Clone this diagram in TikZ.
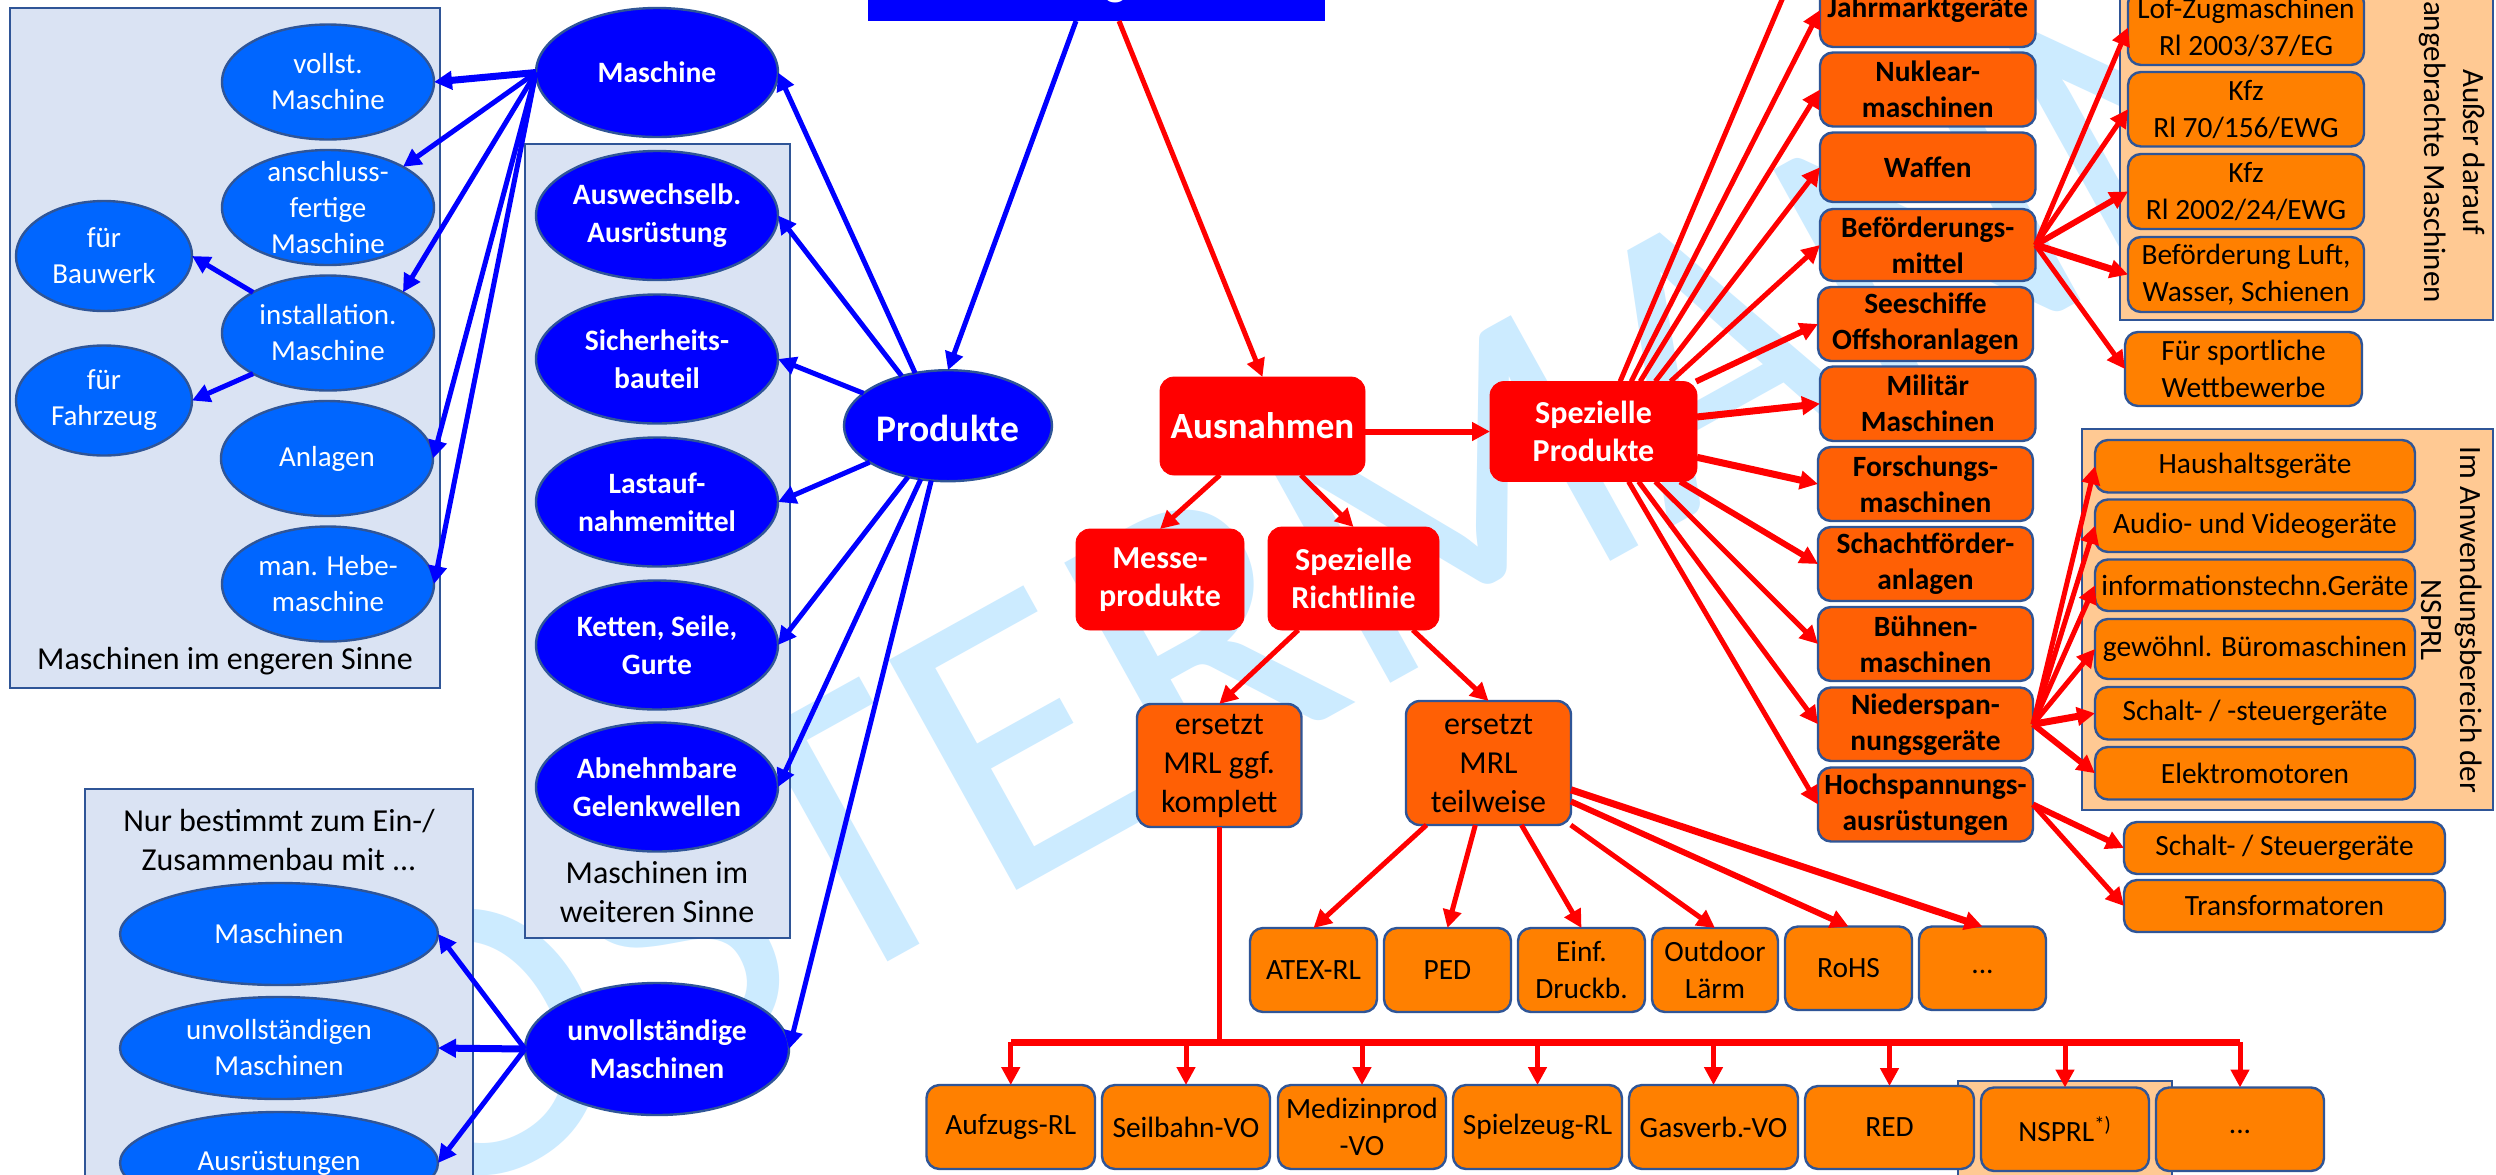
\documentclass[tikz,border=0pt]{standalone}
\usepackage{fontspec}
\setmainfont{Carlito}
\usetikzlibrary{arrows.meta,shapes.geometric,calc}
\definecolor{wm}{HTML}{CCEBFF}
\definecolor{edge}{HTML}{2F5597}
\definecolor{panelb}{HTML}{DAE3F3}
\definecolor{peach}{HTML}{FFC993}
\definecolor{oranA}{HTML}{FF8000}
\definecolor{oranB}{HTML}{FF6005}
\definecolor{lblue}{HTML}{0066FF}
\definecolor{dblue}{HTML}{0000FF}
\tikzset{
  fa/.style={font=\fontsize{16}{19}\selectfont,align=center,text=black},
  fb/.style={font=\fontsize{14.7}{18.5}\selectfont,align=center,text=black},
  fd/.style={font=\fontsize{16}{19.5}\selectfont,align=center,text=black},
  fr/.style={font=\fontsize{15.5}{19.5}\selectfont,align=center,text=black},
  fc/.style={font=\fontsize{16}{19}\selectfont\bfseries,align=center,text=white},
  base/.style={inner sep=0pt,outer sep=0pt},
  panel/.style={base,rectangle,draw=edge,line width=1.2pt,fill=panelb},
  ppanel/.style={base,rectangle,draw=edge,line width=1.2pt,fill=peach},
  obox/.style={base,rectangle,rounded corners=6.5pt,draw=edge,line width=1.2pt,fill=oranA,fb},
  dbox/.style={base,rectangle,rounded corners=6.5pt,draw=edge,line width=1.2pt,fill=oranB,fb,font=\fontsize{14.7}{18}\selectfont\bfseries},
  nbox/.style={base,rectangle,rounded corners=7pt,draw=edge,line width=1.2pt,fill=oranB,fb,font=\fontsize{16}{19.5}\selectfont},
  rbox/.style={base,rectangle,rounded corners=7pt,draw=red,fill=red,fc},
  lell/.style={base,ellipse,draw=edge,line width=1.2pt,fill=lblue},
  dell/.style={base,ellipse,draw=edge,line width=1.2pt,fill=dblue},
  ltxt/.style={base,font=\fontsize{14.5}{18}\selectfont,align=center,text=white},
  dtxt/.style={base,font=\fontsize{14.8}{19}\selectfont\bfseries,align=center,text=white},
  bl/.style={draw=dblue,line width=2.5pt,-{Triangle[length=9pt,width=9pt]}},
  blt/.style={bl,line width=3.5pt},
  re/.style={draw=red,line width=2.5pt,-{Triangle[length=9pt,width=9pt]}},
  ret/.style={re,line width=3.5pt},
  rem/.style={re,line width=3pt}
}
\newcommand{\BX}[7]{%
  \pgfmathsetmacro\bxcx{(#3+#5)/2}\pgfmathsetmacro\bxcy{(#4+#6)/2}%
  \node[#1,minimum width={(#5-(#3))*0.5pt},minimum height={(#6-(#4))*0.5pt}] (#2) at (\bxcx,\bxcy) {#7};}
\newcommand{\EL}[7]{%
  \node[#1,minimum width={#5*1pt},minimum height={#6*1pt}] (#2) at (#3,#4) {};
  \node[#1txt] (#2-t) at (#2) {#7};}
\tikzset{lelltxt/.style={ltxt},delltxt/.style={dtxt}}
\begin{document}
\begin{tikzpicture}[x=0.5pt,y=-0.5pt]
\useasboundingbox (0,0) rectangle (2496,1174);
\clip (0,0) rectangle (2496,1174);
\fill[white] (0,0) rectangle (2496,1174);
% watermark
\node[base,anchor=base west,rotate=29,text=wm,font=\fontsize{205}{205}\selectfont] (wmark) at (417,1223) {OSTERMANN};
% panels
\BX{panel}{pA}{10}{8}{440}{688}{}
\BX{panel}{pB}{525}{144}{790}{938}{}
\BX{panel}{pC}{85}{789}{473}{1260}{}
\BX{ppanel}{pD}{2120}{-40}{2493}{320}{}
\BX{ppanel}{pE}{2082}{429}{2493}{810}{}
\BX{ppanel}{pF}{1958}{1081}{2172}{1260}{}
\node[base,fa] (pA-t) at (225,661) {Maschinen im engeren Sinne};
\node[base,fd] (pB-t) at (657,892) {Maschinen im\\weiteren Sinne};
\node[base,fd] (pC-t) at (279,840) {Nur bestimmt zum Ein-/\\Zusammenbau mit ...};
\node[base,fr,rotate=-90] (pD-t) at (2452,152) {Außer darauf\\angebrachte Maschinen};
\node[base,fr,rotate=-90] (pE-t) at (2452,620) {Im Anwendungsbereich der\\NSPRL};
% title
\BX{base,fill=dblue}{title}{868}{-60}{1325}{21}{}
\node[base,anchor=base,font=\fontsize{22}{24}\selectfont\bfseries,text=white] (title-t) at (1093,-5) {Anwendungsbereich};
\coordinate (tB) at (1076,21);
\coordinate (tR) at (1119,21);
% ellipses
\EL{lell}{voll}{328}{82}{106}{57.5}{vollst.\\Maschine}
\EL{lell}{ansc}{328}{207.5}{106}{57.5}{anschluss-\\fertige\\Maschine}
\EL{lell}{inst}{328}{333}{106}{57.5}{installation.\\Maschine}
\EL{lell}{anla}{327}{458.5}{106}{57.5}{\raisebox{-1.5pt}{Anlagen}}
\EL{lell}{hebe}{328}{584}{106}{57.5}{man. Hebe-\\maschine}
\EL{lell}{bauw}{104}{256}{88}{55}{für\\Bauwerk}
\EL{lell}{fahr}{104}{400.5}{88}{55}{für\\Fahrzeug}
\EL{dell}{masc}{657}{72.5}{121}{64.5}{Maschine}
\EL{dell}{ausw}{657}{215.5}{121}{64.5}{Auswechselb.\\Ausrüstung}
\EL{dell}{sich}{657}{359}{121}{64.5}{Sicherheits-\\bauteil}
\EL{dell}{last}{657}{502}{121}{64.5}{Lastauf-\\nahmemittel}
\EL{dell}{kett}{657}{645}{121}{64.5}{Ketten, Seile,\\Gurte}
\EL{dell}{abne}{657}{787}{121}{64.5}{Abnehmbare\\Gelenkwellen}
\EL{dell}{unvo}{657}{1049}{132}{66}{unvollständige\\Maschinen}
\node[base,dell,minimum width=104pt,minimum height=55.5pt] (prod) at (948,425.7) {};
\node[base,dtxt,font=\fontsize{18.8}{22}\selectfont\bfseries] (prod-t) at ($(prod)+(0,3)$) {Produkte};
\EL{lell}{umas}{279}{934}{159}{51}{Maschinen}
\EL{lell}{uunv}{279}{1048}{159}{51}{unvollständigen\\Maschinen}
\EL{lell}{uaus}{279}{1163}{159}{51}{Ausrüstungen}
% red boxes
\BX{rbox,font=\fontsize{18.5}{22}\selectfont\bfseries}{ausn}{1160}{377}{1365}{475}{\raisebox{-2pt}{Ausnahmen}}
\BX{rbox}{spez}{1490}{381.5}{1697}{481.5}{Spezielle\\Produkte}
\BX{rbox}{mess}{1076}{529}{1244}{630}{Messe-\\produkte}
\BX{rbox}{rich}{1268}{527}{1439}{630}{Spezielle\\Richtlinie}
% middle
\BX{nbox}{ers1}{1137}{704}{1301.5}{827}{ersetzt\\MRL ggf.\\komplett}
\BX{nbox}{ers2}{1406}{701}{1571}{825}{ersetzt\\MRL\\teilweise}
\BX{obox}{atex}{1250}{928}{1377}{1012}{ATEX-RL}
\BX{obox}{ped}{1384}{928}{1511}{1012}{PED}
\BX{obox}{einf}{1518}{928}{1645}{1012}{Einf.\\Druckb.}
\BX{obox}{outd}{1652}{928}{1778}{1012}{Outdoor\\Lärm}
\BX{obox}{rohs}{1785}{926.5}{1912}{1010}{RoHS}
\BX{obox}{more}{1919}{926.5}{2046}{1010}{\raisebox{-5pt}{...}}
\BX{obox}{aufz}{926.5}{1085}{1095}{1169}{Aufzugs-RL}
\BX{obox}{seil}{1102}{1085}{1270}{1169}{Seilbahn-VO}
\BX{obox}{medi}{1278}{1085}{1446}{1169}{Medizinprod\\-VO}
\BX{obox}{spie}{1453}{1085}{1622}{1169}{Spielzeug-RL}
\BX{obox}{gasv}{1629}{1085}{1798}{1169}{Gasverb.-VO}
\BX{obox}{red}{1805}{1086}{1974}{1169}{RED}
\BX{obox}{nspr}{1981}{1087.5}{2149}{1171}{NSPRL\textsuperscript{*)}}
\BX{obox}{mor2}{2156}{1087.5}{2324}{1171}{\raisebox{-4pt}{...}}
% right column
\BX{dbox}{jahr}{1820}{-27}{2035.5}{47}{Jahrmarktgeräte}
\BX{dbox}{nukl}{1820}{52.5}{2035.5}{126.5}{Nuklear-\\maschinen}
\BX{dbox}{waff}{1820}{132.5}{2035.5}{202}{Waffen}
\BX{dbox}{befo}{1820}{209}{2035.5}{281}{Beförderungs-\\mittel}
\BX{dbox}{sees}{1818}{287}{2033}{361}{Seeschiffe\\Offshoranlagen}
\BX{dbox}{mili}{1820}{366.5}{2035.5}{441}{Militär\\Maschinen}
\BX{dbox}{fors}{1818}{447}{2033}{521}{Forschungs-\\maschinen}
\BX{dbox}{scha}{1818}{527}{2033}{601}{Schachtförder-\\anlagen}
\BX{dbox}{bueh}{1818}{607}{2033}{681}{Bühnen-\\maschinen}
\BX{dbox}{nied}{1818}{687.5}{2033}{761}{Niederspan-\\nungsgeräte}
\BX{dbox}{hoch}{1818}{767.5}{2033}{841.5}{Hochspannungs-\\ausrüstungen}
\coordinate (offT) at (1820,-90);
% right boxes
\BX{obox}{lofz}{2128}{-10}{2364}{65}{Lof-Zugmaschinen\\Rl 2003/37/EG}
\BX{obox}{kfz1}{2128}{72}{2364}{146.5}{Kfz\\Rl 70/156/EWG}
\BX{obox}{kfz2}{2128}{154}{2364}{229}{Kfz\\Rl 2002/24/EWG}
\BX{obox}{befl}{2128}{237}{2364}{312}{Beförderung Luft,\\Wasser, Schienen}
\BX{obox}{spor}{2125}{332}{2362}{406}{Für sportliche\\Wettbewerbe}
\BX{obox}{haus}{2095}{440}{2415}{492.5}{Haushaltsgeräte}
\BX{obox}{audi}{2095}{499.5}{2415}{552}{Audio- und Videogeräte}
\BX{obox}{info}{2095}{559.5}{2415}{611}{informationstechn.Geräte}
\BX{obox}{gewo}{2095}{619}{2415}{679}{gewöhnl. Büromaschinen}
\BX{obox}{scsr}{2095}{687}{2415}{739.5}{Schalt- / -steuergeräte}
\BX{obox}{elek}{2095}{747}{2415}{799.5}{Elektromotoren}
\BX{obox}{scst}{2124}{822}{2445}{874}{Schalt- / Steuergeräte}
\BX{obox}{traf}{2124}{880}{2445}{932}{Transformatoren}
% blue connectors
\draw[bl] (tB) -- (prod.north);
\draw[blt] (masc.west) -- (voll.east);
\draw[bl] (masc.west) -- (ansc.north east);
\draw[bl] (masc.west) -- (inst.north east);
\draw[bl] (masc.west) -- (anla.east);
\draw[bl] (masc.west) -- (hebe.east);
\draw[bl] (inst.north west) -- (bauw.east);
\draw[bl] (inst.south west) -- (fahr.east);
\draw[bl] (prod.122) -- (masc.east);
\draw[bl] (prod.133) -- (ausw.east);
\draw[bl] (prod.159) -- (sich.east);
\draw[bl] (prod.205) -- (last.east);
\draw[bl] (prod.232) -- (kett.east);
\draw[bl] (prod.243) -- (abne.east);
\draw[bl] (prod.253) -- (unvo.east);
\draw[bl] (unvo.west) -- (umas.east);
\draw[blt] (unvo.west) -- (uunv.east);
\draw[bl] (unvo.west) -- (uaus.east);
% red connectors
\draw[re] (tR) -- (ausn.north);
\draw[rem] (ausn.east |- spez.west) -- (spez.west);
\draw[re] (ausn.229) -- (mess.north);
\draw[re] (ausn.308) -- (rich.north);
\draw[re] (rich.223) -- (ers1.north);
\draw[re] (rich.319) -- (ers2.north);
\draw[re] (ers2.225) -- (atex.north);
\draw[re] (ers2.258) -- (ped.north);
\draw[re] (ers2.298) -- (einf.north);
\draw[re] (ers2.323) -- (outd.north);
\draw[rem] (ers2.335) -- (rohs.north);
\draw[ret] (ers2.342) -- (more.north);
% bus
\coordinate (busC) at (ers1.south |- 0,1042);
\coordinate (busL) at (aufz.north |- busC);
\coordinate (busR) at (mor2.north |- busC);
\draw[draw=red,line width=2.5pt] (ers1.south) -- (busC);
\draw[draw=red,line width=3.5pt] (busL) -- (busR);
\foreach \n in {aufz,seil,medi,spie,gasv,red,nspr,mor2}
  \draw[re] (\n.north |- busC) -- (\n.north);
% fan from Spezielle Produkte
\draw[re] (spez.62) -- (offT);
\draw[re] (spez.53) -- (jahr.west);
\draw[re] (spez.47) -- (nukl.west);
\draw[re] (spez.39) -- (waff.west);
\draw[re] (spez.33) -- (befo.west);
\draw[rem] (spez.26) -- (sees.west);
\draw[ret] (spez.8) -- (mili.west);
\draw[ret] (spez.346) -- (fors.west);
\draw[rem] (spez.330) -- (scha.west);
\draw[re] (spez.321) -- (bueh.west);
\draw[re] (spez.312) -- (nied.west);
\draw[re] (spez.305) -- (hoch.west);
% Befoerderungsmittel fan
\draw[re] (befo.east) -- (lofz.west);
\draw[re] (befo.east) -- (kfz1.west);
\draw[rem] (befo.east) -- (kfz2.west);
\draw[ret] (befo.east) -- (befl.west);
\draw[re] (befo.east) -- (spor.west);
% Niederspannung fan
\draw[re] (nied.east) -- (haus.west);
\draw[re] (nied.east) -- (audi.west);
\draw[re] (nied.east) -- (info.west);
\draw[re] (nied.east) -- (gewo.west);
\draw[ret] (nied.east) -- (scsr.west);
\draw[rem] (nied.east) -- (elek.west);
% Hochspannung fan
\draw[rem] (hoch.east) -- (scst.west);
\draw[re] (hoch.east) -- (traf.west);
\end{tikzpicture}
\end{document}
